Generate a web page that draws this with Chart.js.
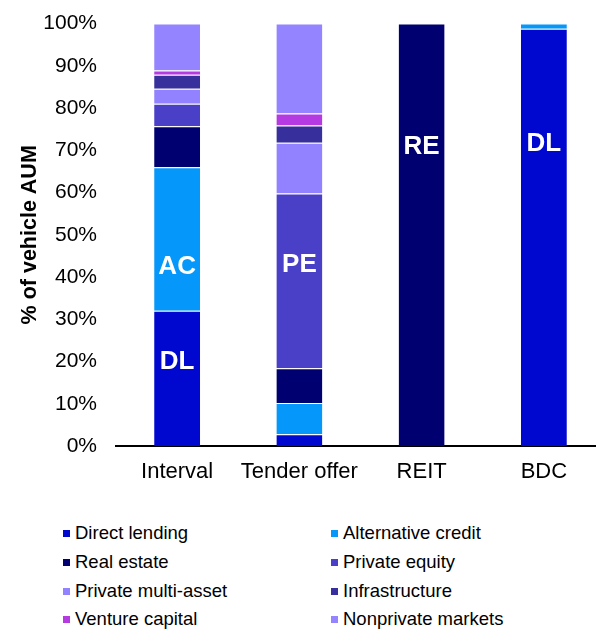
<!DOCTYPE html>
<html>
<head>
<meta charset="utf-8">
<script src="https://cdn.jsdelivr.net/npm/chart.js@4/dist/chart.umd.min.js"></script>
<style>
  body { margin: 0; overflow: hidden; background: #fff; font-family: "Liberation Sans", Arial, sans-serif; }
  #wrap { position: absolute; left: 0; top: -8px; width: 606px; height: 508px; }
  .lg { position: absolute; font-size: 18.5px; line-height: 20px; color: #000; white-space: nowrap; }
  .lg span { position: absolute; width: 7px; height: 7px; left: -12px; top: 7px; }
</style>
</head>
<body>
<div id="wrap"><canvas id="grafico"></canvas></div>
<div id="legenda"></div>
<script>
const categorias = ['Interval', 'Tender offer', 'REIT', 'BDC'];

const directLending     = [32.0, 2.8, 0, 98.8];
const alternativeCredit = [34.0, 7.4, 0, 1.2];
const realEstate        = [9.7, 8.2, 100, 0];
const privateEquity     = [5.3, 41.4, 0, 0];
const privateMultiAsset = [3.6, 12.0, 0, 0];
const infrastructure    = [3.3, 4.1, 0, 0];
const ventureCapital    = [1.0, 2.8, 0, 0];
const nonprivateMarkets = [11.1, 21.3, 0, 0];

const yTicks = [0, 10, 20, 30, 40, 50, 60, 70, 80, 90, 100];

// labels written inside the bars (category index, text, value on y axis)
const rotulos = [
    { cat: 0, texto: 'DL', em: 19.9 },
    { cat: 0, texto: 'AC', em: 42.4 },
    { cat: 1, texto: 'PE', em: 42.8 },
    { cat: 2, texto: 'RE', em: 70.8 },
    { cat: 3, texto: 'DL', em: 71.6 }
];

const fonte = '"Liberation Sans", Arial, sans-serif';

function serie(label, data, cor) {
    return {
        label: label,
        data: data,
        backgroundColor: cor,
        borderColor: '#ffffff',
        borderWidth: { top: 1, bottom: 0, left: 0, right: 0 },
        borderSkipped: false,
        categoryPercentage: 1,
        barPercentage: 0.376
    };
}

const rotulosPlugin = {
    id: 'rotulos',
    afterDatasetsDraw(chart) {
        const ctx = chart.ctx;
        ctx.save();
        ctx.fillStyle = '#ffffff';
        ctx.font = 'bold 26px ' + fonte;
        ctx.textAlign = 'center';
        ctx.textBaseline = 'middle';
        rotulos.forEach(r => {
            const x = chart.scales.x.getPixelForValue(r.cat);
            const y = chart.scales.y.getPixelForValue(r.em);
            ctx.fillText(r.texto, x, y);
        });
        ctx.restore();
    }
};

const ctx = document.getElementById('grafico').getContext('2d');

const grafico = new Chart(ctx, {
    type: 'bar',
    data: {
        labels: categorias,
        datasets: [
            serie('Direct lending', directLending, '#0008D0'),
            serie('Alternative credit', alternativeCredit, '#0598FA'),
            serie('Real estate', realEstate, '#000070'),
            serie('Private equity', privateEquity, '#4A40C8'),
            serie('Private multi-asset', privateMultiAsset, '#9282FF'),
            serie('Infrastructure', infrastructure, '#37309C'),
            serie('Venture capital', ventureCapital, '#B63AE2'),
            serie('Nonprivate markets', nonprivateMarkets, '#9484FF')
        ]
    },
    options: {
        responsive: true,
        maintainAspectRatio: false,
        animation: false,
        layout: { padding: { top: 15, right: 1, left: 0, bottom: 0 } },
        plugins: {
            legend: { display: false },
            tooltip: { enabled: false }
        },
        scales: {
            x: {
                stacked: true,
                grid: { display: false, drawTicks: false },
                border: { display: true, color: '#000000', width: 2 },
                ticks: {
                    color: '#000000',
                    padding: 13,
                    autoSkip: false,
                    maxRotation: 0,
                    minRotation: 0,
                    font: { family: fonte, size: 22 }
                },
                afterFit(scale) { scale.height = 54; }
            },
            y: {
                stacked: true,
                min: 0,
                max: 100,
                grid: { display: false, drawTicks: false },
                border: { display: false },
                afterBuildTicks(scale) { scale.ticks = yTicks.map(v => ({ value: v })); },
                ticks: {
                    color: '#000000',
                    padding: 19,
                    font: { family: fonte, size: 21 },
                    callback: v => v + '%'
                },
                title: {
                    display: true,
                    text: '% of vehicle AUM',
                    color: '#000000',
                    padding: { top: 17, bottom: 0 },
                    font: { family: fonte, size: 21.5, weight: 'bold' }
                },
                afterFit(scale) { scale.width = 116; }
            }
        }
    },
    plugins: [rotulosPlugin]
});

// legend in two columns, row by row in dataset order
const legenda = document.getElementById('legenda');
const linhas = [533, 562, 591, 619];
const colunas = [75, 343];
grafico.data.datasets.forEach((ds, i) => {
    const item = document.createElement('div');
    item.className = 'lg';
    item.style.left = colunas[i % 2] + 'px';
    item.style.top = (linhas[Math.floor(i / 2)] - 10) + 'px';
    const quadrado = document.createElement('span');
    quadrado.style.background = ds.backgroundColor;
    item.appendChild(quadrado);
    item.appendChild(document.createTextNode(ds.label));
    legenda.appendChild(item);
});
</script>
</body>
</html>
